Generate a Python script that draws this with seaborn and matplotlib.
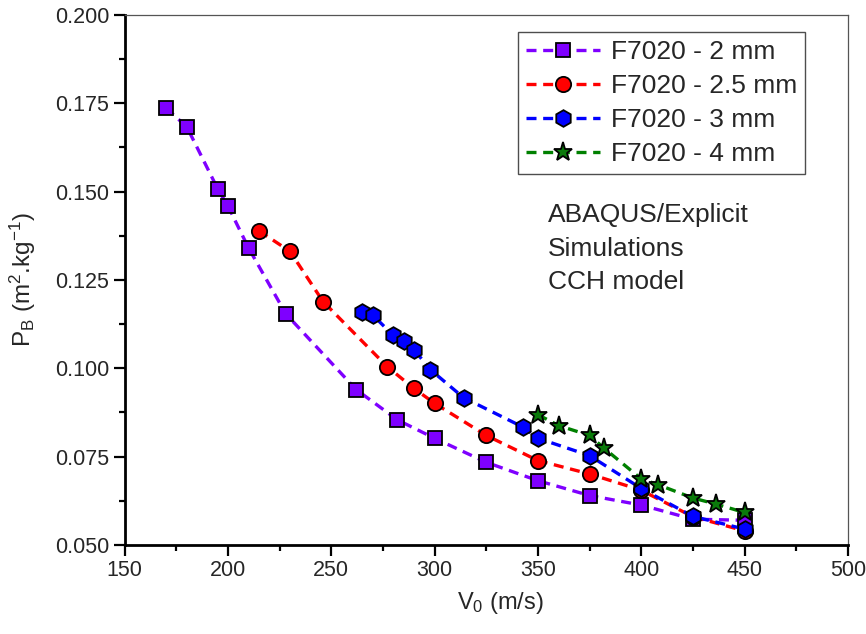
import matplotlib
matplotlib.use('Agg')
import pandas as pd
import matplotlib.pyplot as plt
import seaborn as sns
from matplotlib import font_manager
from matplotlib.ticker import MultipleLocator, FormatStrFormatter

sns.set_style('ticks')
plt.rcParams['font.family'] = ['Liberation Sans', 'DejaVu Sans']
plt.rcParams['mathtext.fontset'] = 'custom'
plt.rcParams['mathtext.rm'] = 'Liberation Sans'
plt.rcParams['mathtext.it'] = 'Liberation Sans:italic'
plt.rcParams['axes.unicode_minus'] = False

names = {f.name for f in font_manager.fontManager.ttflist}
narrow = 'Liberation Sans Narrow' if 'Liberation Sans Narrow' in names else 'Liberation Sans'

# data (V0 in m/s, PB in m2/kg)
v_2mm = [170, 180, 195, 200, 210, 228, 262, 282, 300, 325, 350, 375, 400, 425, 450]
pb_2mm = [0.1736, 0.1684, 0.1508, 0.1459, 0.1340, 0.1154, 0.0940, 0.0854, 0.0802,
          0.0734, 0.0682, 0.0640, 0.0613, 0.0573, 0.0570]

v_25mm = [215, 230, 246, 277, 290, 300, 325, 350, 375, 400, 425, 450]
pb_25mm = [0.1389, 0.1331, 0.1189, 0.1005, 0.0943, 0.0901, 0.0810, 0.0739, 0.0701,
           0.0655, 0.0580, 0.0540]

v_3mm = [265, 270, 280, 285, 290, 298, 314, 343, 350, 375, 400, 425, 450]
pb_3mm = [0.1158, 0.1151, 0.1093, 0.1076, 0.1053, 0.0996, 0.0917, 0.0833, 0.0802,
          0.0753, 0.0660, 0.0581, 0.0545]

v_4mm = [350, 360, 375, 382, 400, 408, 425, 436, 450]
pb_4mm = [0.0869, 0.0838, 0.0810, 0.0774, 0.0687, 0.0671, 0.0633, 0.0616, 0.0592]

labels = ['F7020 - 2 mm', 'F7020 - 2.5 mm', 'F7020 - 3 mm', 'F7020 - 4 mm']
notes = ['ABAQUS/Explicit', 'Simulations', 'CCH model']

series = [
    (v_2mm, pb_2mm, 's', '#7f00ff', '#7f00ff', 10.5),
    (v_25mm, pb_25mm, 'o', '#ff0000', '#ff0000', 11),
    (v_3mm, pb_3mm, 'h', '#0000ff', '#0000ff', 12),
    (v_4mm, pb_4mm, '*', '#008000', '#0a7a0a', 14),
]

fig = plt.figure(figsize=(8.66, 6.34), dpi=100)
ax = fig.add_axes([0.144, 0.1404, 0.835, 0.836])

for (xs, ys, mk, lc, fc, ms), lab in zip(series, labels):
    df = pd.DataFrame({'v0': xs, 'pb': ys})
    sns.lineplot(data=df, x='v0', y='pb', ax=ax, estimator=None, sort=False,
                 color=lc, linewidth=2.4, linestyle=(0, (3, 2)),
                 marker=mk, markersize=ms, markerfacecolor=fc,
                 markeredgecolor='black', markeredgewidth=1.3, label=lab)

ax.set_xlim(150, 500)
ax.set_ylim(0.05, 0.2)
ax.xaxis.set_major_locator(MultipleLocator(50))
ax.xaxis.set_minor_locator(MultipleLocator(25))
ax.yaxis.set_major_locator(MultipleLocator(0.025))
ax.yaxis.set_minor_locator(MultipleLocator(0.0125))
ax.yaxis.set_major_formatter(FormatStrFormatter('%.3f'))

for side in ['left', 'bottom']:
    ax.spines[side].set_linewidth(2)
    ax.spines[side].set_color('black')
for side in ['top', 'right']:
    ax.spines[side].set_visible(True)
    ax.spines[side].set_linewidth(0.9)
    ax.spines[side].set_color('#555555')

ax.tick_params(which='major', direction='out', length=8, width=1.6, color='black')
ax.tick_params(which='minor', direction='out', length=4.5, width=1.6, color='black')
ax.tick_params(axis='x', labelsize=15.5, pad=3)
ax.tick_params(axis='y', labelsize=15.5, pad=3)

ax.set_xlabel(r'V$_0$ (m/s)', fontsize=17, family=narrow, labelpad=6)
ax.xaxis.set_label_coords(0.52, -0.085)
ax.set_ylabel(r'P$_\mathrm{B}$ (m$^2$.kg$^{-1}$)', fontsize=17.5, labelpad=12)

leg = ax.legend(loc='upper right', bbox_to_anchor=(0.9405, 0.968), borderaxespad=0,
                fontsize=19, frameon=True, fancybox=False, edgecolor='#222222',
                handlelength=2.8, handletextpad=0.4, labelspacing=0.38,
                borderpad=0.3, numpoints=1)
leg.get_frame().set_linewidth(1.0)

ax.text(0.585, 0.645, '\n'.join(notes), transform=ax.transAxes, fontsize=19,
        va='top', ha='left', linespacing=1.5)

fig.savefig('out.png', dpi=100)
